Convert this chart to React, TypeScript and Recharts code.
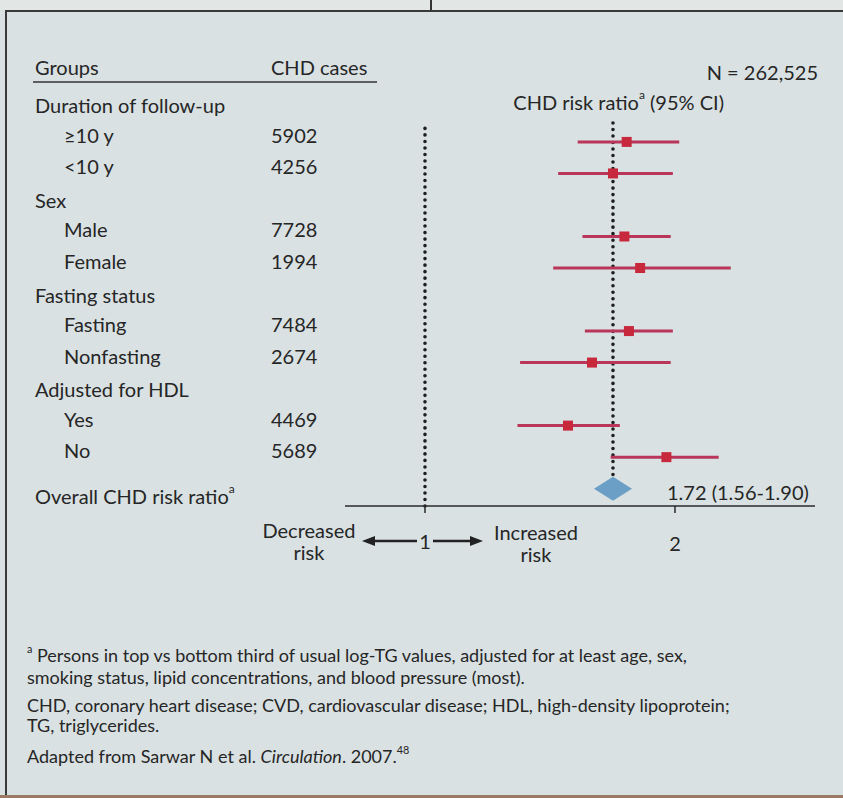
import { ScatterChart, Scatter, XAxis, YAxis, ReferenceLine, ErrorBar } from 'recharts';

// ─── Data ─────────────────────────────────────────────────────────────────────

const groupHeaders   = ['Duration of follow-up', 'Sex', 'Fasting status', 'Adjusted for HDL'];
const subgroupLabels = ['≥10 y', '<10 y', 'Male', 'Female', 'Fasting', 'Nonfasting', 'Yes', 'No'];
const chdCases       = [5902, 4256, 7728, 1994, 7484, 2674, 4469, 5689];
const riskRatio      = [1.78, 1.72, 1.77, 1.84, 1.79, 1.63, 1.53, 1.96];
const ciLower        = [1.57, 1.49, 1.59, 1.47, 1.60, 1.34, 1.33, 1.71];
const ciUpper        = [2.02, 1.99, 1.98, 2.27, 1.99, 1.98, 1.75, 2.21];

const overallRatio = 1.72;
const overallLower = 1.56;
const overallUpper = 1.90;
const totalN       = '262,525';
const xTicks       = [1, 2];

// ─── Layout ───────────────────────────────────────────────────────────────────

const W = 843;
const H = 798;
const FONT = 'Lato, "Noto Sans", sans-serif';
const INK = '#262626';
const LINE_RED = '#b9355a';
const BOX_RED = '#c8283c';
const DIAMOND = '#6b9fc6';

const PLOT = { left: 345, right: 815, top: 123, bottom: 506 };
const X_AXIS_H = 60;
const X_DOMAIN: [number, number] = [0.7525, 2.71];   // sqrt scale: 1 → 425px, 2 → 675px
const Y_DOMAIN: [number, number] = [0.4, 12.55];
const ROW_PX = (PLOT.bottom - PLOT.top) / (Y_DOMAIN[1] - Y_DOMAIN[0]);
const DIAMOND_HW = 19;
const DIAMOND_HH = 12;

// each group takes a header row, then its two subgroups
const slotOf = (i: number) => 3 * Math.floor(i / 2) + 1 + (i % 2);
const overallSlot = 3 * groupHeaders.length;
const rowY = (slot: number) => PLOT.top + (slot - Y_DOMAIN[0]) * ROW_PX;

const rows = subgroupLabels.map((_, i) => ({
  slot: slotOf(i),
  est: riskRatio[i],
  ci: [riskRatio[i] - ciLower[i], ciUpper[i] - riskRatio[i]],
}));
const overallRows = [{ slot: overallSlot, est: overallRatio }];

// ─── Shapes ───────────────────────────────────────────────────────────────────

// eslint-disable-next-line @typescript-eslint/no-explicit-any
function Box(props: any) {
  const { cx, cy } = props;
  return <rect x={cx - 5} y={cy - 5} width={10} height={10} fill={BOX_RED} />;
}

// eslint-disable-next-line @typescript-eslint/no-explicit-any
function Diamond(props: any) {
  const { cx, cy } = props;
  return (
    <polygon
      points={`${cx - DIAMOND_HW},${cy} ${cx},${cy - DIAMOND_HH} ${cx + DIAMOND_HW},${cy} ${cx},${cy + DIAMOND_HH}`}
      fill={DIAMOND}
    />
  );
}

const txt = { fontFamily: FONT, fill: INK, fontSize: 20 };

// eslint-disable-next-line @typescript-eslint/no-explicit-any
function RatioTick(props: any) {
  const { x, y, payload } = props;
  if (payload.value !== 1) {
    return <text x={x} y={y + 30} textAnchor="middle" dominantBaseline="central" {...txt}>{payload.value}</text>;
  }
  const ay = y + 28;
  return (
    <g>
      <text x={x - 116} y={y + 17} textAnchor="middle" dominantBaseline="central" {...txt}>Decreased</text>
      <text x={x - 116} y={y + 39} textAnchor="middle" dominantBaseline="central" {...txt}>risk</text>
      <text x={x} y={ay} textAnchor="middle" dominantBaseline="central" {...txt}>1</text>
      <line x1={x - 8} x2={x - 52} y1={ay} y2={ay} stroke="#222" strokeWidth={2.5} />
      <polygon points={`${x - 63},${ay} ${x - 50},${ay - 5} ${x - 50},${ay + 5}`} fill="#222" />
      <line x1={x + 8} x2={x + 47} y1={ay} y2={ay} stroke="#222" strokeWidth={2.5} />
      <polygon points={`${x + 58},${ay} ${x + 45},${ay - 5} ${x + 45},${ay + 5}`} fill="#222" />
      <text x={x + 111} y={y + 19} textAnchor="middle" dominantBaseline="central" {...txt}>Increased</text>
      <text x={x + 111} y={y + 41} textAnchor="middle" dominantBaseline="central" {...txt}>risk</text>
    </g>
  );
}

// ─── Text layer (table on the left, headings, footnotes) ──────────────────────

function Sup({ children }: { children: string }) {
  return <tspan baselineShift="super" fontSize="0.6em">{children}</tspan>;
}

function TextLayer() {
  const foot = { fontFamily: FONT, fill: INK, fontSize: 18 };
  return (
    <svg width={W} height={H} style={{ position: 'absolute', left: 0, top: 0, pointerEvents: 'none' }}>
      <g dominantBaseline="central" {...txt}>
        <text x={35} y={67}>Groups</text>
        <text x={271} y={67}>CHD cases</text>
        <line x1={33} x2={377} y1={82} y2={82} stroke="#333" strokeWidth={1.6} />
        <text x={818} y={72} textAnchor="end">N = {totalN}</text>
        <text x={724} y={102} textAnchor="end">CHD risk ratio<Sup>a</Sup> (95% CI)</text>

        {groupHeaders.map((g, gi) => (
          <text key={g} x={35} y={rowY(3 * gi) - 5}>{g}</text>
        ))}
        {subgroupLabels.map((s, i) => (
          <g key={s}>
            <text x={64} y={rowY(slotOf(i)) - 7}>{s}</text>
            <text x={271} y={rowY(slotOf(i)) - 7}>{chdCases[i]}</text>
          </g>
        ))}
        <text x={35} y={rowY(overallSlot) + 7}>Overall CHD risk ratio<Sup>a</Sup></text>
        <text x={667} y={rowY(overallSlot) + 3}>
          {overallRatio.toFixed(2)} ({overallLower.toFixed(2)}-{overallUpper.toFixed(2)})
        </text>
      </g>

      <g dominantBaseline="central" {...foot}>
        <text x={27} y={655}><Sup>a</Sup> Persons in top vs bottom third of usual log-TG values, adjusted for at least age, sex,</text>
        <text x={27} y={677}>smoking status, lipid concentrations, and blood pressure (most).</text>
        <text x={27} y={705}>CHD, coronary heart disease; CVD, cardiovascular disease; HDL, high-density lipoprotein;</text>
        <text x={27} y={725}>TG, triglycerides.</text>
        <text x={27} y={756}>
          Adapted from Sarwar N et al. <tspan fontStyle="italic">Circulation</tspan>. 2007.<Sup>48</Sup>
        </text>
      </g>
    </svg>
  );
}

// ─── Component ────────────────────────────────────────────────────────────────

export default function App() {
  const dots = { stroke: '#1e1e1e', strokeWidth: 3.6, strokeDasharray: '0.01 6.5', strokeLinecap: 'round' as const };
  return (
    <div style={{ position: 'absolute', left: 0, top: 0, width: W, height: H, background: '#d9e1e3', overflow: 'hidden' }}>
      {/* panel frame as in the printed figure */}
      <div style={{ position: 'absolute', left: 0, top: 0, width: W, height: 10, background: '#e2e6e5' }} />
      <div style={{ position: 'absolute', left: 430, top: 0, width: 1.5, height: 11, background: '#333' }} />
      <div style={{ position: 'absolute', left: 5, top: 10, width: W - 5, height: 2, background: '#3a3a3a' }} />
      <div style={{ position: 'absolute', left: 5, top: 10, width: 2, height: H - 10, background: '#3a3a3a' }} />
      <div style={{ position: 'absolute', left: 0, top: H - 3, width: W, height: 3, background: '#9a7a62' }} />

      <div style={{ position: 'absolute', left: 0, top: 0 }}>
        <ScatterChart
          width={W}
          height={H}
          margin={{ top: PLOT.top, right: W - PLOT.right, bottom: H - PLOT.bottom - X_AXIS_H, left: PLOT.left }}
        >
          <XAxis
            type="number"
            dataKey="est"
            scale="sqrt"
            domain={X_DOMAIN}
            allowDataOverflow
            ticks={xTicks}
            height={X_AXIS_H}
            tickSize={7}
            tickMargin={0}
            tick={<RatioTick />}
            axisLine={{ stroke: '#2a2a2a', strokeWidth: 1.5 }}
            tickLine={{ stroke: '#2a2a2a', strokeWidth: 1.5 }}
          />
          <YAxis type="number" dataKey="slot" domain={Y_DOMAIN} reversed allowDataOverflow hide />

          <ReferenceLine x={1} {...dots} />
          <ReferenceLine
            segment={[
              { x: overallRatio, y: Y_DOMAIN[0] },
              { x: overallRatio, y: overallSlot - DIAMOND_HH / ROW_PX },
            ]}
            {...dots}
          />

          <Scatter data={rows} shape={<Box />} isAnimationActive={false}>
            <ErrorBar dataKey="ci" direction="x" width={0} stroke={LINE_RED} strokeWidth={3} isAnimationActive={false} />
          </Scatter>
          <Scatter data={overallRows} shape={<Diamond />} isAnimationActive={false} />
        </ScatterChart>
      </div>

      <TextLayer />
    </div>
  );
}
